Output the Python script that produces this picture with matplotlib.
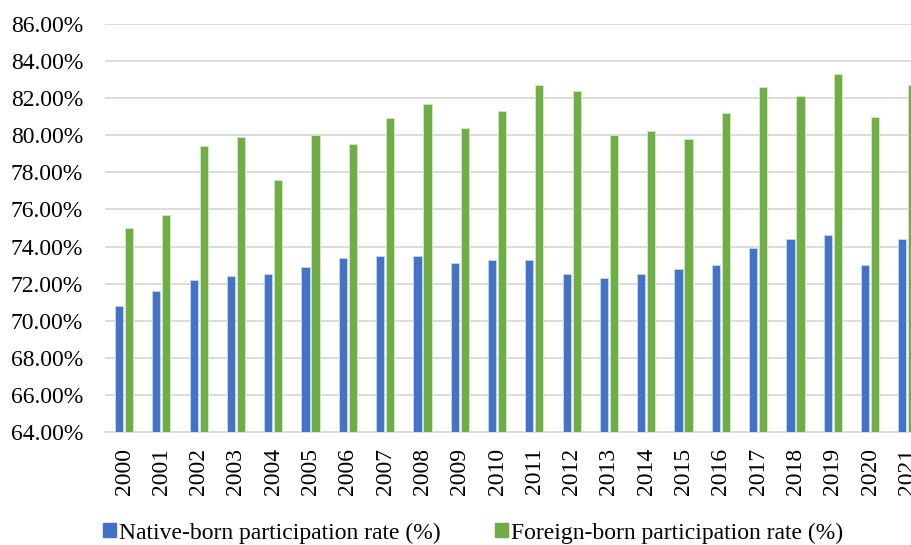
import numpy as np
import matplotlib
matplotlib.use("Agg")
import matplotlib.pyplot as plt
from matplotlib.patches import Patch

plt.rcParams['font.family'] = ['Liberation Serif', 'DejaVu Serif']

# data
years = [str(y) for y in range(2000, 2022)]
native = [70.8, 71.6, 72.2, 72.4, 72.5, 72.9, 73.4, 73.5, 73.5, 73.1, 73.3,
          73.3, 72.5, 72.3, 72.5, 72.8, 73.0, 73.9, 74.4, 74.6, 73.0, 74.4]
foreign = [75.0, 75.7, 79.4, 79.9, 77.6, 80.0, 79.5, 80.9, 81.7, 80.4, 81.3,
           82.7, 82.4, 80.0, 80.2, 79.8, 81.2, 82.6, 82.1, 83.3, 81.0, 82.7]
yticks = np.arange(64, 87, 2)

blue = '#4472C4'
green = '#70AD47'

fig = plt.figure(figsize=(9.12, 5.45), dpi=100)
# axes runs off the right edge, like the cropped original
ax = fig.add_axes([0.1156, 0.2068, 0.8998, 0.7497])

x = np.arange(len(years))
w = 0.22
base = 64
ax.bar(x - 0.134, np.array(native) - base, w, bottom=base, color=blue,
       edgecolor='#c3d3ef', linewidth=0.7, zorder=3)
ax.bar(x + 0.134, np.array(foreign) - base, w, bottom=base, color=green,
       edgecolor='#cfe6c0', linewidth=0.7, zorder=3)

ax.set_xlim(-0.5, len(years) - 0.5)
ax.set_ylim(64, 86)
ax.set_yticks(yticks)
ax.set_yticklabels(['%.2f%%' % v for v in yticks], fontsize=17)
ax.set_xticks(x)
ax.set_xticklabels(years, rotation=90, fontsize=17)
ax.tick_params(axis='y', length=0, pad=16)
ax.tick_params(axis='x', length=0, pad=11)
ax.grid(axis='y', color='#d9d9d9', linewidth=1.3, zorder=0)
for s in ['top', 'right', 'left']:
    ax.spines[s].set_visible(False)
ax.spines['bottom'].set_color('#d9d9d9')
ax.spines['bottom'].set_linewidth(1.3)

handles = [Patch(color=blue), Patch(color=green)]
labels = ['Native-born participation rate (%)', 'Foreign-born participation rate (%)']
fig.legend(handles, labels, loc='center', bbox_to_anchor=(0.519, 0.022),
           ncol=2, frameon=False, fontsize=17, handlelength=0.52,
           handleheight=0.52, handletextpad=0.15, columnspacing=2.3)

fig.savefig('out.png', dpi=100)
